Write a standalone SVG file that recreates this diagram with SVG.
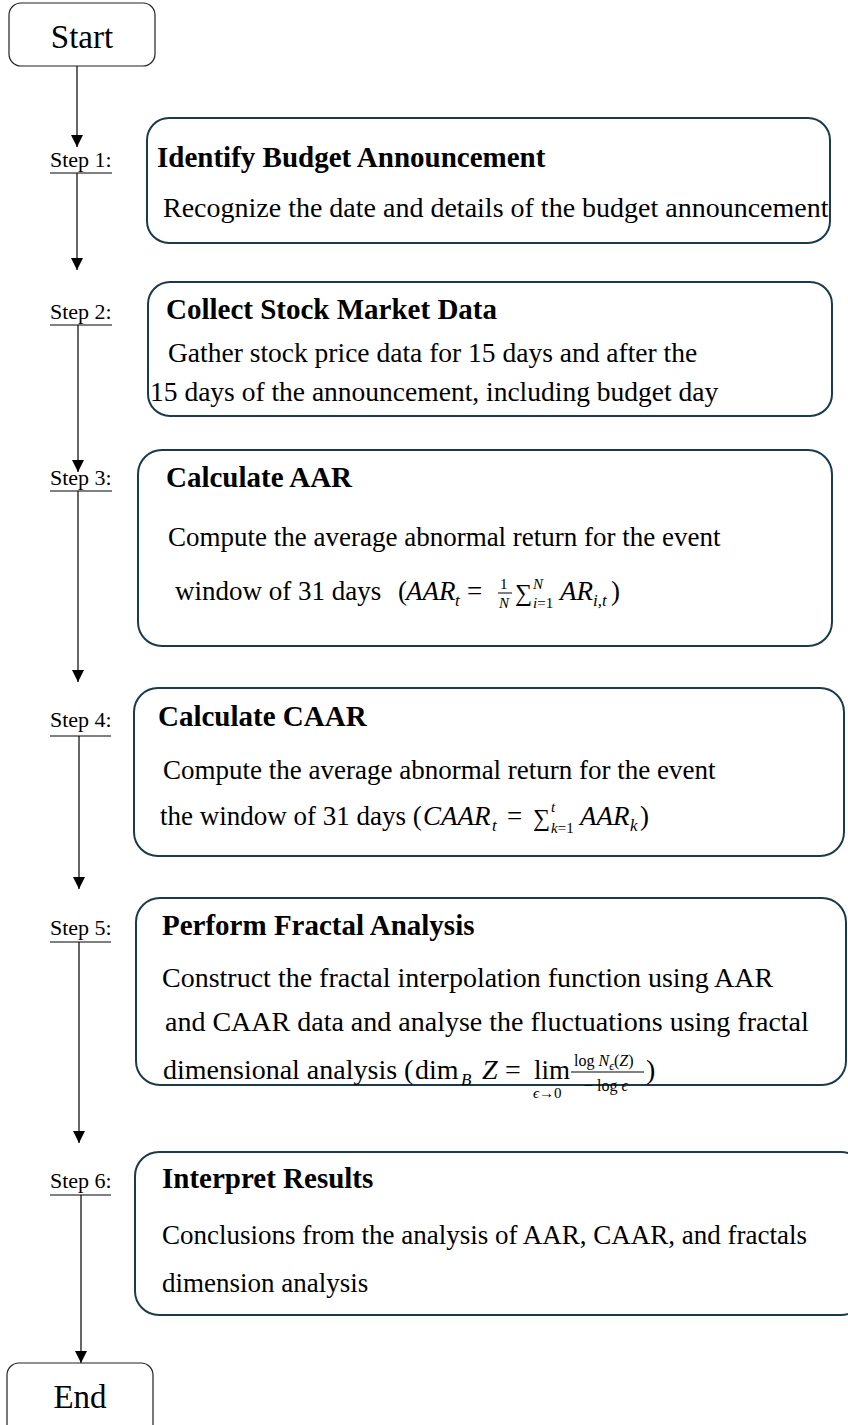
<svg xmlns="http://www.w3.org/2000/svg" width="848" height="1425" viewBox="0 0 848 1425">
<defs>
<marker id="ah" markerWidth="12" markerHeight="12" refX="12" refY="6" orient="auto" markerUnits="userSpaceOnUse">
<path d="M0,0 L12,6 L0,12 Z" fill="#000"/>
</marker>
<style>
text{font-family:"Liberation Serif","Times New Roman",serif;fill:#000}
.term{fill:#fff;stroke:#222;stroke-width:1.2}
.box{fill:#fff;stroke:#1b3a4b;stroke-width:2}
.se{font-size:33px;text-anchor:middle}
.step{font-size:22px}
.ul{stroke:#000;stroke-width:1}
.ttl{font-size:29px;font-weight:bold}
.bd{font-size:27.5px}
.it{font-style:italic}
.sm{font-size:17px}
.xs{font-size:15px}
.fr{font-size:16px}
.conn{stroke:#000;stroke-width:1.2;fill:none;marker-end:url(#ah)}
</style>
</defs>

<g id="connectors">
<line class="conn" x1="77" y1="66" x2="77" y2="147"/>
<line class="conn" x1="77" y1="173" x2="77" y2="270"/>
<line class="conn" x1="78" y1="325" x2="78" y2="472"/>
<line class="conn" x1="78" y1="491" x2="78" y2="682"/>
<line class="conn" x1="79" y1="736" x2="79" y2="889"/>
<line class="conn" x1="79" y1="942" x2="79" y2="1143"/>
<line class="conn" x1="81" y1="1195" x2="81" y2="1363"/>
</g>

<g id="start">
<rect class="term" x="9" y="3" width="146" height="63" rx="12"/>
<text class="se" x="82" y="48">Start</text>
</g>

<g id="step1">
<text class="step" x="50" y="167">Step 1:</text>
<line class="ul" x1="50" y1="173" x2="112" y2="173"/>
<rect class="box" x="147" y="118" width="683" height="125" rx="22"/>
<text class="ttl" x="157" y="167">Identify Budget Announcement</text>
<text class="bd" style="font-size:28px" x="163" y="217">Recognize the date and details of the budget announcement</text>
</g>

<g id="step2">
<text class="step" x="50" y="319">Step 2:</text>
<line class="ul" x1="50" y1="325" x2="112" y2="325"/>
<rect class="box" x="148" y="282" width="684" height="134" rx="22"/>
<text class="ttl" x="166" y="319">Collect Stock Market Data</text>
<text class="bd" x="168" y="362">Gather stock price data for 15 days and after the</text>
<text class="bd" x="150" y="401">15 days of the announcement, including budget day</text>
</g>

<g id="step3">
<text class="step" x="50" y="485">Step 3:</text>
<line class="ul" x1="50" y1="491" x2="112" y2="491"/>
<rect class="box" x="138" y="450" width="694" height="196" rx="24"/>
<text class="ttl" x="166" y="487">Calculate AAR</text>
<text class="bd" style="font-size:27px" x="168" y="546">Compute the average abnormal return for the event</text>
<text class="bd" style="font-size:27px" x="175" y="600">window of 31 days</text>
<text class="bd" style="font-size:27px" x="398" y="600">(</text>
<text class="bd it" style="font-size:27px" x="406" y="600">AAR</text>
<text class="sm it" x="455" y="606">t</text>
<text class="bd" style="font-size:27px" x="467" y="600">=</text>
<text class="xs" x="500" y="589">1</text>
<line x1="498" y1="593" x2="512" y2="593" stroke="#000" stroke-width="1"/>
<text class="xs it" x="499" y="608">N</text>
<text style="font-size:24px" x="515" y="601">∑</text>
<text class="xs it" x="533" y="589">N</text>
<text class="xs" x="533" y="608"><tspan class="it">i</tspan>=1</text>
<text class="bd it" style="font-size:27px" x="560" y="600">AR</text>
<text class="sm it" x="593" y="606">i,t</text>
<text class="bd" style="font-size:27px" x="611" y="600">)</text>
</g>

<g id="step4">
<text class="step" x="50" y="727">Step 4:</text>
<line class="ul" x1="50" y1="736" x2="111" y2="736"/>
<rect class="box" x="134" y="688" width="710" height="168" rx="24"/>
<text class="ttl" x="158" y="726">Calculate CAAR</text>
<text class="bd" style="font-size:27px" x="163" y="779">Compute the average abnormal return for the event</text>
<text class="bd" style="font-size:27px" x="160" y="825">the window of 31 days (</text>
<text class="bd it" style="font-size:27px" x="423" y="825">CAAR</text>
<text class="sm it" x="492" y="831">t</text>
<text class="bd" style="font-size:27px" x="507" y="825">=</text>
<text style="font-size:24px" x="533" y="826">∑</text>
<text class="xs it" x="551" y="812">t</text>
<text class="xs" x="551" y="833"><tspan class="it">k</tspan>=1</text>
<text class="bd it" style="font-size:27px" x="580" y="825">AAR</text>
<text class="sm it" x="630" y="831">k</text>
<text class="bd" style="font-size:27px" x="640" y="825">)</text>
</g>

<g id="step5">
<text class="step" x="50" y="935">Step 5:</text>
<line class="ul" x1="50" y1="942" x2="111" y2="942"/>
<rect class="box" x="136" y="898" width="710" height="187" rx="24"/>
<text class="ttl" x="162" y="935">Perform Fractal Analysis</text>
<text class="bd" style="font-size:28px" x="162" y="987">Construct the fractal interpolation function using AAR</text>
<text class="bd" style="font-size:28px" x="165" y="1031">and CAAR data and analyse the fluctuations using fractal</text>
<text class="bd" style="font-size:28px" x="163" y="1079">dimensional analysis (</text>
<text class="bd" style="font-size:28px" x="415" y="1079">dim</text>
<text class="sm it" x="461" y="1085">B</text>
<text class="bd it" style="font-size:28px" x="482" y="1079">Z</text>
<text class="bd" style="font-size:28px" x="505" y="1079">=</text>
<text class="bd" style="font-size:27px" x="534" y="1079">lim</text>
<text class="xs" x="533" y="1098"><tspan class="it">ϵ</tspan>→0</text>
<text class="fr" x="574" y="1066">log <tspan class="it">N</tspan><tspan class="it" font-size="12" dy="4">ϵ</tspan><tspan dy="-4">(</tspan><tspan class="it">Z</tspan>)</text>
<line x1="571" y1="1072" x2="644" y2="1072" stroke="#000" stroke-width="1"/>
<text class="fr" x="584" y="1091">− log <tspan class="it">ϵ</tspan></text>
<text class="bd" style="font-size:28px" x="646" y="1079">)</text>
</g>

<g id="step6">
<text class="step" x="50" y="1188">Step 6:</text>
<line class="ul" x1="50" y1="1195" x2="111" y2="1195"/>
<rect class="box" x="135" y="1152" width="730" height="163" rx="24"/>
<text class="ttl" x="162" y="1188">Interpret Results</text>
<text class="bd" style="font-size:27px" x="162" y="1244">Conclusions from the analysis of AAR, CAAR, and fractals</text>
<text class="bd" style="font-size:27px" x="162" y="1292">dimension analysis</text>
</g>

<g id="end">
<rect class="term" x="7" y="1363" width="146" height="75" rx="12"/>
<text class="se" x="80" y="1408">End</text>
</g>
</svg>
